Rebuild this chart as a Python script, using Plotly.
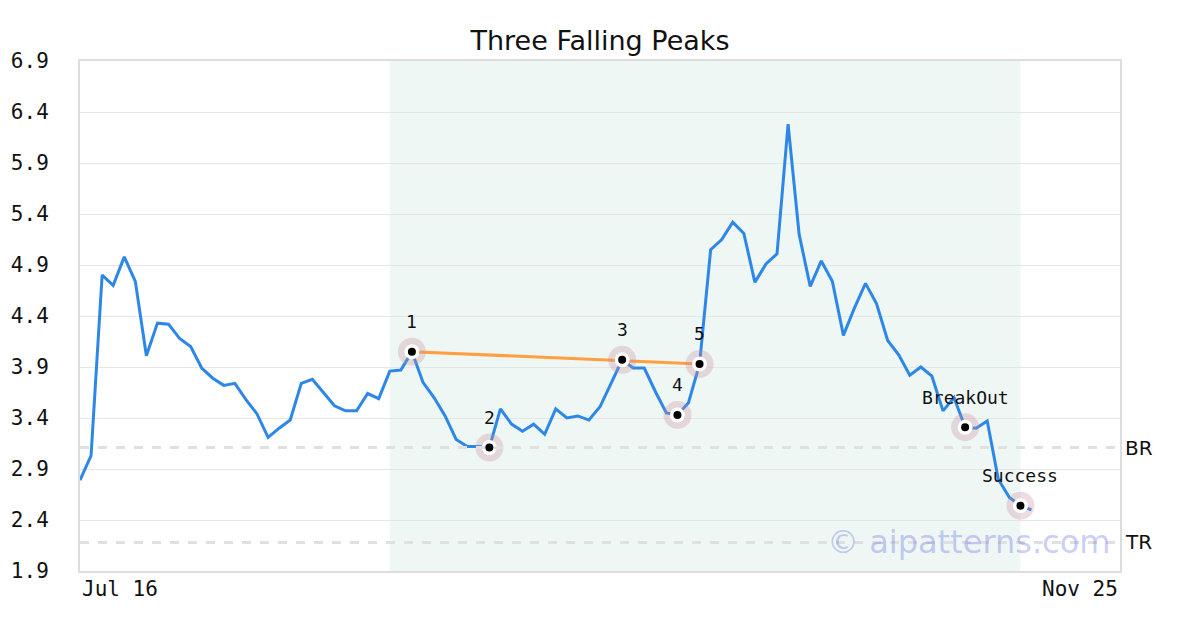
import plotly.graph_objects as go

# daily closes, trading-day index
prices = [2.79, 3.03, 4.80, 4.70, 4.98, 4.74, 4.01, 4.33, 4.32, 4.18,
          4.10, 3.89, 3.79, 3.72, 3.74, 3.58, 3.44, 3.21, 3.30, 3.38,
          3.74, 3.78, 3.65, 3.52, 3.47, 3.47, 3.64, 3.59, 3.86, 3.87,
          4.05, 3.75, 3.60, 3.42, 3.19, 3.12, 3.12, 3.11, 3.49, 3.34,
          3.27, 3.34, 3.24, 3.49, 3.40, 3.42, 3.38, 3.51, 3.74, 3.97,
          3.89, 3.89, 3.66, 3.45, 3.43, 3.55, 3.93, 5.05, 5.15, 5.32,
          5.21, 4.73, 4.91, 5.01, 6.28, 5.20, 4.69, 4.94, 4.74, 4.21,
          4.48, 4.72, 4.52, 4.16, 4.02, 3.82, 3.90, 3.81, 3.47, 3.60,
          3.31, 3.30, 3.37, 2.80, 2.62, 2.54, 2.50]
days = list(range(len(prices)))

point_idx = [30, 37, 49, 54, 56, 80, 85]
point_labels = ['1', '2', '3', '4', '5', 'BreakOut', 'Success']
peak_line_idx = [30, 56]

pattern_start, pattern_end = 28, 85
br_level = 3.11
tr_level = 2.18
x_max = 94
date_labels = ['Jul 16', 'Nov 25']
y_ticks = [1.9, 2.4, 2.9, 3.4, 3.9, 4.4, 4.9, 5.4, 5.9, 6.4, 6.9]

mono = 'DejaVu Sans Mono'

fig = go.Figure()

fig.add_vrect(x0=pattern_start, x1=pattern_end, fillcolor='rgba(200,230,215,0.3)',
              line_width=0, layer='below')

for lvl, name in [(br_level, 'BR'), (tr_level, 'TR')]:
    fig.add_hline(y=lvl, line=dict(color='#e0e0e0', width=3, dash='dash'))
    fig.add_annotation(x=1, xref='paper', y=lvl, yref='y', text=name,
                       showarrow=False, xanchor='left', xshift=3,
                       font=dict(family='DejaVu Sans', size=20, color='#111'))

fig.add_trace(go.Scatter(x=days, y=prices, mode='lines',
                         line=dict(color='#2d87e8', width=3), hoverinfo='skip'))

fig.add_trace(go.Scatter(x=peak_line_idx, y=[prices[i] for i in peak_line_idx],
                         mode='lines', line=dict(color='#ff9f40', width=3)))

px = point_idx
py = [prices[i] for i in point_idx]
fig.add_trace(go.Scatter(x=px, y=py, mode='markers',
                         marker=dict(size=28, color='rgba(198,138,155,0.3)')))
fig.add_trace(go.Scatter(x=px, y=py, mode='markers',
                         marker=dict(size=15, color='white')))
fig.add_trace(go.Scatter(x=px, y=py, mode='markers',
                         marker=dict(size=8, color='black')))

for i, lab in zip(point_idx, point_labels):
    fig.add_annotation(x=i, y=prices[i], text=lab, showarrow=False, yshift=30,
                       font=dict(family=mono, size=18, color='#111'))

fig.add_annotation(x=0, xref='paper', y=0, yref='paper', text=date_labels[0],
                   showarrow=False, xanchor='left', yanchor='top', yshift=-4,
                   font=dict(family=mono, size=21, color='#111'))
fig.add_annotation(x=1, xref='paper', y=0, yref='paper', text=date_labels[1],
                   showarrow=False, xanchor='right', yanchor='top', yshift=-4,
                   font=dict(family=mono, size=21, color='#111'))

fig.add_annotation(x=0.854, xref='paper', y=0.057, yref='paper',
                   xanchor='center', yanchor='middle',
                   text='© aipatterns.com', showarrow=False,
                   font=dict(family='DejaVu Sans', size=32, color='rgba(72,85,232,0.3)'))

# page body adds an 8px offset, so margins are shifted to compensate
fig.update_layout(
    width=1200, height=630,
    title=dict(text='Three Falling Peaks', x=(600 - 8) / 1200, xanchor='center',
               yref='container', y=1 - 33 / 630, yanchor='middle',
               font=dict(family='DejaVu Sans', size=27, color='#111')),
    showlegend=False,
    plot_bgcolor='white', paper_bgcolor='white',
    margin=dict(l=72, r=88, t=53, b=67),
    xaxis=dict(range=[0, x_max], showgrid=False, showticklabels=False,
               zeroline=False, showline=True, linecolor='#dddddd',
               linewidth=2, mirror=True, automargin=False),
    yaxis=dict(range=[1.9, 6.9], tickvals=y_ticks,
               ticktext=[f'{v:.1f}' for v in y_ticks],
               showgrid=True, gridcolor='#e6e6e6', gridwidth=1,
               zeroline=False, showline=True, linecolor='#dddddd',
               linewidth=2, mirror=True, ticks='', ticklabelstandoff=25,
               automargin=False,
               tickfont=dict(family=mono, size=21, color='#111')),
)

fig.write_html('out.html')
